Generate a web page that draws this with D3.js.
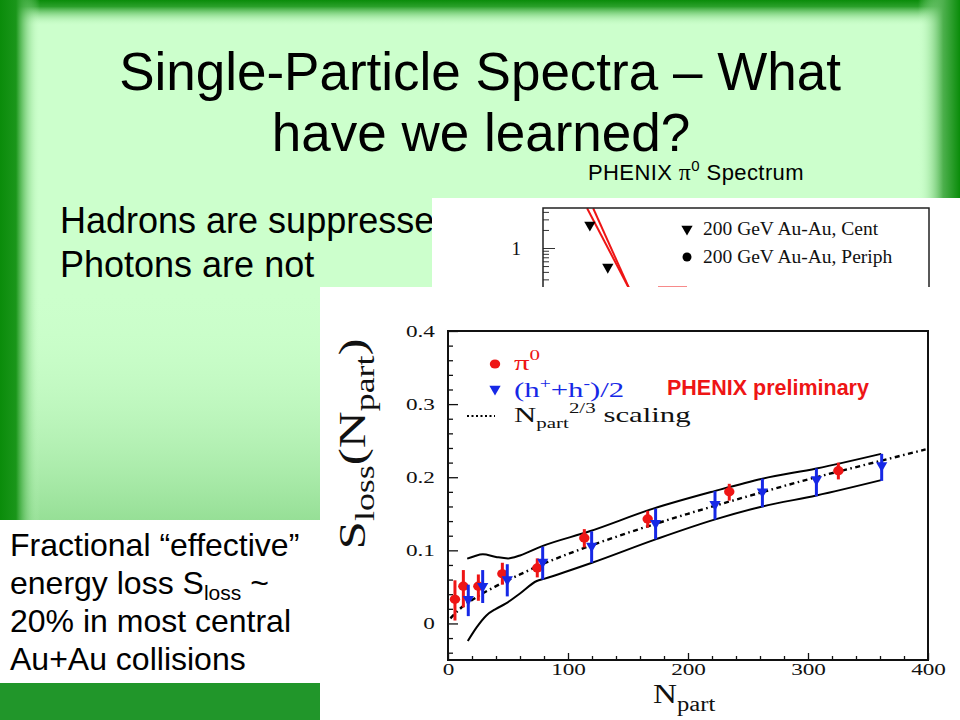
<!DOCTYPE html>
<html>
<head>
<meta charset="utf-8">
<script src="https://cdn.jsdelivr.net/npm/d3@7"></script>
<style>
  html, body { margin: 0; padding: 0; background: #ccffcc; }
  svg { display: block; }
</style>
</head>
<body>
<svg id="slide" width="960" height="720"></svg>
<script>
// ---- values ----
// pi0 points (N_part, S_loss, error low, error high)
const pi0Npart = [5.8, 12.8, 25.3, 45.3, 74.4, 113.6, 166.4, 234.4, 325.3];
const pi0Sloss = [0.033, 0.051, 0.051, 0.068, 0.076, 0.117, 0.143, 0.180, 0.209];
const pi0Lo    = [0.004, 0.022, 0.031, 0.053, 0.063, 0.104, 0.131, 0.168, 0.197];
const pi0Hi    = [0.059, 0.073, 0.067, 0.083, 0.089, 0.129, 0.154, 0.191, 0.220];

// (h+ + h-)/2 points
const hNpart = [16.9, 28.9, 49.4, 78.9, 119.7, 173, 222.5, 262, 307, 361.4];
const hSloss = [0.033, 0.051, 0.060, 0.084, 0.106, 0.137, 0.163, 0.180, 0.197, 0.216];
const hLo    = [0.010, 0.028, 0.037, 0.060, 0.083, 0.115, 0.142, 0.159, 0.174, 0.195];
const hHi    = [0.053, 0.073, 0.081, 0.105, 0.126, 0.157, 0.181, 0.198, 0.212, 0.232];

// Npart^(2/3) scaling curve
const scaleNpart = [2, 10, 20, 40, 60, 80, 100, 150, 200, 250, 300, 350, 398];
const scaleSloss = [0.007, 0.020, 0.032, 0.051, 0.067, 0.082, 0.095, 0.124, 0.150, 0.174, 0.197, 0.218, 0.238];

// systematic band edges
const bandUpN = [16, 22, 29, 40, 50, 60, 78, 118, 171, 222, 262, 307, 361];
const bandUpS = [0.0886, 0.092, 0.0945, 0.091, 0.089, 0.093, 0.1055, 0.126, 0.157, 0.181, 0.198, 0.212, 0.232];
const bandLoN = [16.5, 24, 32, 40, 48, 60, 74, 80, 120, 173, 222, 262, 307, 361];
const bandLoS = [-0.024, -0.005, 0.011, 0.020, 0.027, 0.041, 0.058, 0.061, 0.083, 0.115, 0.142, 0.160, 0.175, 0.196];

const xMajor = [0, 100, 200, 300, 400];
const yMajor = [0, 0.1, 0.2, 0.3, 0.4];

// inset (pi0 spectrum, cut off)
const insetPt  = [1.7, 2.35];
const insetY   = [2.42, 0.48];
const fitAx = [1.6, 3.15], fitAy = [4.6, 0.2];
const fitBx = [1.82, 3.15], fitBy = [4.6, 0.2];
const insetMinor = [0.2, 0.3, 0.4, 0.5, 0.6, 0.7, 0.8, 0.9, 2, 3, 4];

const SERIF = "'Liberation Serif', 'Times New Roman', serif";
const SANS = "'Liberation Sans', Arial, sans-serif";
const RED = '#ee1515';
const BLUE = '#1628e6';

const svg = d3.select('#slide');
const defs = svg.append('defs');

// ---- slide background with green bevel ----
function grad(id, x1, y1, x2, y2, stops) {
  const g = defs.append('linearGradient').attr('id', id)
    .attr('x1', x1).attr('y1', y1).attr('x2', x2).attr('y2', y2);
  stops.forEach(s => g.append('stop').attr('offset', s[0])
    .attr('stop-color', s[1]).attr('stop-opacity', s[2]));
}
grad('gBottom', 0, 0, 0, 1, [[0, '#ccffcc', 0], [1, '#109010', 1]]);
grad('gTop', 0, 0, 0, 1, [[0, '#0a8c0a', 1], [0.25, '#2aa02a', 1], [1, '#ccffcc', 0]]);
grad('gLeft', 0, 0, 1, 0, [[0, '#0a8c0a', 1], [0.4, '#1a961a', 1], [1, '#ccffcc', 0]]);
grad('gRight', 0, 0, 1, 0, [[0, '#ccffcc', 0], [0.6, '#4db04d', 1], [1, '#0a8c0a', 1]]);

svg.append('rect').attr('width', 960).attr('height', 720).attr('fill', '#ccffcc');
svg.append('rect').attr('y', 290).attr('width', 960).attr('height', 430).attr('fill', 'url(#gBottom)');
svg.append('rect').attr('width', 960).attr('height', 26).attr('fill', 'url(#gTop)');
svg.append('rect').attr('width', 40).attr('height', 720).attr('fill', 'url(#gLeft)');
svg.append('rect').attr('x', 918).attr('width', 42).attr('height', 720).attr('fill', 'url(#gRight)');

// ---- title and body text ----
svg.append('text').attr('x', 480).attr('y', 90).attr('text-anchor', 'middle')
  .attr('font-family', SANS).attr('font-size', 53).text('Single-Particle Spectra – What');
svg.append('text').attr('x', 481).attr('y', 151).attr('text-anchor', 'middle')
  .attr('font-family', SANS).attr('font-size', 53).text('have we learned?');

const lab = svg.append('text').attr('x', 588).attr('y', 180)
  .attr('font-family', SANS).attr('font-size', 22).attr('letter-spacing', 0.4);
lab.append('tspan').text('PHENIX ');
lab.append('tspan').attr('font-family', SERIF).attr('font-size', 24).text('π');
lab.append('tspan').attr('font-size', 15).attr('dy', -9).text('0');
lab.append('tspan').attr('dy', 9).text(' Spectrum');

svg.append('text').attr('x', 60).attr('y', 233).attr('font-family', SANS)
  .attr('font-size', 36).text('Hadrons are suppressed');
svg.append('text').attr('x', 60).attr('y', 277).attr('font-family', SANS)
  .attr('font-size', 36).text('Photons are not');

// ---- inset: pi0 spectrum (mostly hidden) ----
svg.append('rect').attr('x', 432).attr('y', 198).attr('width', 528).attr('height', 120).attr('fill', '#fff');
const xi = d3.scaleLinear().domain([0, 14]).range([543, 929]);
const yi = d3.scaleLog().domain([0.1, 10]).range([308, 188]);
defs.append('clipPath').attr('id', 'insetClip').append('rect')
  .attr('x', 543).attr('y', 208).attr('width', 386).attr('height', 120);

const gi = svg.append('g');
gi.append('g').attr('transform', 'translate(543,0)')
  .call(d3.axisLeft(yi).tickValues(insetMinor).tickSizeInner(-6).tickSizeOuter(0).tickFormat(''))
  .call(g => g.select('.domain').remove())
  .call(g => g.selectAll('line').attr('stroke', '#333'));
gi.append('g').attr('transform', 'translate(543,0)')
  .call(d3.axisLeft(yi).tickValues([1]).tickSizeInner(-12).tickSizeOuter(0).tickPadding(22).tickFormat(d => String(d)))
  .call(g => g.select('.domain').remove())
  .call(g => g.selectAll('line').attr('stroke', '#333'))
  .call(g => g.selectAll('text').attr('font-family', SERIF).attr('font-size', 19).attr('fill', '#111'));

const gic = gi.append('g').attr('clip-path', 'url(#insetClip)');
const lineI = d3.line().x(d => xi(d[0])).y(d => yi(d[1]));
[[fitAx, fitAy], [fitBx, fitBy]].forEach(([xs, ys]) => {
  gic.append('path').attr('d', lineI(d3.zip(xs, ys)))
    .attr('fill', 'none').attr('stroke', RED).attr('stroke-width', 2);
});
const triDown = d3.symbol().type(d3.symbolTriangle).size(55);
gic.selectAll('path.itri').data(d3.zip(insetPt, insetY)).enter().append('path')
  .attr('class', 'itri').attr('d', triDown)
  .attr('transform', d => `translate(${xi(d[0])},${yi(d[1])}) rotate(180)`)
  .attr('fill', '#000');

svg.append('rect').attr('x', 543).attr('y', 208).attr('width', 386).attr('height', 120)
  .attr('fill', 'none').attr('stroke', '#222').attr('stroke-width', 1.5);

// inset legend
svg.append('path').attr('d', triDown).attr('transform', 'translate(687,229) rotate(180)').attr('fill', '#000');
svg.append('text').attr('x', 703).attr('y', 235).attr('font-family', SERIF).attr('font-size', 19.5)
  .attr('fill', '#111').text('200 GeV Au-Au, Cent');
svg.append('circle').attr('cx', 687).attr('cy', 257).attr('r', 4.5).attr('fill', '#000');
svg.append('text').attr('x', 703).attr('y', 263).attr('font-family', SERIF).attr('font-size', 19.5)
  .attr('fill', '#111').text('200 GeV Au-Au, Periph');
svg.append('line').attr('x1', 658).attr('x2', 687).attr('y1', 289).attr('y2', 289)
  .attr('stroke', RED).attr('stroke-width', 5);
svg.append('text').attr('x', 703).attr('y', 301).attr('font-family', SERIF).attr('font-size', 19.5)
  .attr('fill', '#111').text('Exponential fit');

// ---- main plot: S_loss vs N_part ----
svg.append('rect').attr('x', 320).attr('y', 287).attr('width', 640).attr('height', 433).attr('fill', '#fff');

const x = d3.scaleLinear().domain([0, 400]).range([448, 928]);
const y = d3.scaleLinear().domain([-0.05, 0.4]).range([660, 331]);
const TICKSCALE = 'scale(1.45,1)';

const yMinor = d3.range(-4, 40, 2).map(v => v / 100).filter(v => Math.abs(v * 10 - Math.round(v * 10)) > 1e-6);
const xMinor = d3.range(20, 400, 20).filter(v => v % 100 !== 0);

const gm = svg.append('g');
gm.append('g').attr('transform', `translate(${x(0)},0)`)
  .call(d3.axisLeft(y).tickValues(yMinor).tickSizeInner(-5).tickSizeOuter(0).tickFormat(''))
  .call(g => g.select('.domain').remove());
gm.append('g').attr('transform', `translate(${x(0)},0)`)
  .call(d3.axisLeft(y).tickValues(yMajor).tickSizeInner(-10).tickSizeOuter(0).tickPadding(9)
    .tickFormat(d => d === 0 ? '0' : d.toFixed(1)))
  .call(g => g.select('.domain').remove())
  .call(g => g.selectAll('text').attr('font-family', SERIF).attr('font-size', 16)
    .attr('fill', '#111').attr('transform', TICKSCALE));
gm.append('g').attr('transform', `translate(0,${y(-0.05)})`)
  .call(d3.axisBottom(x).tickValues(xMinor).tickSizeInner(-4).tickSizeOuter(0).tickFormat(''))
  .call(g => g.select('.domain').remove());
gm.append('g').attr('transform', `translate(0,${y(-0.05)})`)
  .call(d3.axisBottom(x).tickValues(xMajor).tickSizeInner(-7).tickSizeOuter(0).tickPadding(4)
    .tickFormat(d3.format('d')))
  .call(g => g.select('.domain').remove())
  .call(g => g.selectAll('text').attr('font-family', SERIF).attr('font-size', 16)
    .attr('fill', '#111').attr('transform', TICKSCALE));
gm.selectAll('.tick line').attr('stroke', '#111').attr('stroke-width', 1.3);

// band + scaling curve
const curve = d3.line().x(d => x(d[0])).y(d => y(d[1])).curve(d3.curveMonotoneX);
gm.append('path').attr('d', curve(d3.zip(bandUpN, bandUpS)))
  .attr('fill', 'none').attr('stroke', '#000').attr('stroke-width', 2);
gm.append('path').attr('d', curve(d3.zip(bandLoN, bandLoS)))
  .attr('fill', 'none').attr('stroke', '#000').attr('stroke-width', 2);
gm.append('path').attr('d', curve(d3.zip(scaleNpart, scaleSloss)))
  .attr('fill', 'none').attr('stroke', '#000').attr('stroke-width', 2.4)
  .attr('stroke-dasharray', '5 3.5 1.6 3.5');

// pi0 points
const pi0 = d3.range(pi0Npart.length).map(i => ({ n: pi0Npart[i], s: pi0Sloss[i], lo: pi0Lo[i], hi: pi0Hi[i] }));
gm.selectAll('line.pi0err').data(pi0).enter().append('line').attr('class', 'pi0err')
  .attr('x1', d => x(d.n)).attr('x2', d => x(d.n))
  .attr('y1', d => y(d.lo)).attr('y2', d => y(d.hi))
  .attr('stroke', RED).attr('stroke-width', 3);
gm.selectAll('ellipse.pi0').data(pi0).enter().append('ellipse').attr('class', 'pi0')
  .attr('cx', d => x(d.n)).attr('cy', d => y(d.s)).attr('rx', 5.2).attr('ry', 4.6)
  .attr('fill', RED);

// hadron points
const had = d3.range(hNpart.length).map(i => ({ n: hNpart[i], s: hSloss[i], lo: hLo[i], hi: hHi[i] }));
gm.selectAll('line.herr').data(had).enter().append('line').attr('class', 'herr')
  .attr('x1', d => x(d.n)).attr('x2', d => x(d.n))
  .attr('y1', d => y(d.lo)).attr('y2', d => y(d.hi))
  .attr('stroke', BLUE).attr('stroke-width', 3);
const triMain = d3.symbol().type(d3.symbolTriangle).size(55);
gm.selectAll('path.h').data(had).enter().append('path').attr('class', 'h')
  .attr('d', triMain)
  .attr('transform', d => `translate(${x(d.n)},${y(d.s)}) rotate(180)`)
  .attr('fill', BLUE);

// frame
gm.append('rect').attr('x', x(0)).attr('y', y(0.4))
  .attr('width', x(400) - x(0)).attr('height', y(-0.05) - y(0.4))
  .attr('fill', 'none').attr('stroke', '#111').attr('stroke-width', 2);

// legend
gm.append('ellipse').attr('cx', 495).attr('cy', 364).attr('rx', 5.2).attr('ry', 4.6).attr('fill', RED);
gm.append('path').attr('d', triMain).attr('transform', 'translate(495,389) rotate(180)').attr('fill', BLUE);
gm.append('line').attr('x1', 467).attr('x2', 495).attr('y1', 416).attr('y2', 416)
  .attr('stroke', '#000').attr('stroke-width', 2).attr('stroke-dasharray', '2 2.5');

const l1 = gm.append('text').attr('transform', 'translate(514,370) scale(1.4,1)')
  .attr('font-family', SERIF).attr('font-size', 22).attr('fill', RED);
l1.append('tspan').text('π');
l1.append('tspan').attr('font-size', 15).attr('dy', -10).text('0');

const l2 = gm.append('text').attr('transform', 'translate(514,397) scale(1.4,1)')
  .attr('font-family', SERIF).attr('font-size', 22).attr('fill', BLUE);
l2.append('tspan').text('(h');
l2.append('tspan').attr('font-size', 14).attr('dy', -9).text('+');
l2.append('tspan').attr('dy', 9).text('+h');
l2.append('tspan').attr('font-size', 14).attr('dy', -9).text('-');
l2.append('tspan').attr('dy', 9).text(')/2');

const l3 = gm.append('text').attr('transform', 'translate(514,422) scale(1.4,1)')
  .attr('font-family', SERIF).attr('font-size', 22).attr('fill', '#111');
l3.append('tspan').text('N');
l3.append('tspan').attr('font-size', 15).attr('dy', 6).text('part');
l3.append('tspan').attr('font-size', 15).attr('dy', -15).text('2/3');
l3.append('tspan').attr('dy', 9).text(' scaling');

gm.append('text').attr('x', 667).attr('y', 395).attr('font-family', SANS)
  .attr('font-weight', 'bold').attr('font-size', 21.5).attr('fill', RED).text('PHENIX preliminary');

// axis titles
const yt = gm.append('text').attr('transform', 'translate(365,444) rotate(-90) scale(1.28,0.95)')
  .attr('text-anchor', 'middle').attr('font-family', SERIF).attr('font-size', 40).attr('fill', '#111');
yt.append('tspan').text('S');
yt.append('tspan').attr('font-size', 28).attr('dy', 9).text('loss');
yt.append('tspan').attr('dy', -9).text('(N');
yt.append('tspan').attr('font-size', 28).attr('dy', 9).text('part');
yt.append('tspan').attr('dy', -9).text(')');

const xt = gm.append('text').attr('transform', 'translate(653,703) scale(1.23,1)')
  .attr('font-family', SERIF).attr('font-size', 27).attr('fill', '#111');
xt.append('tspan').text('N');
xt.append('tspan').attr('font-size', 20).attr('dy', 8).text('part');

// ---- bottom-left text box ----
svg.append('rect').attr('x', 0).attr('y', 520).attr('width', 320).attr('height', 163).attr('fill', '#fff');
svg.append('rect').attr('x', 0).attr('y', 683).attr('width', 320).attr('height', 37).attr('fill', '#21962a');
const box = svg.append('g').attr('font-family', SANS).attr('font-size', 32).attr('fill', '#000');
box.append('text').attr('x', 10).attr('y', 556).text('Fractional “effective”');
const e2 = box.append('text').attr('x', 10).attr('y', 594);
e2.append('tspan').text('energy loss S');
e2.append('tspan').attr('font-size', 21).attr('dy', 6).text('loss');
e2.append('tspan').attr('dy', -6).text(' ~');
box.append('text').attr('x', 10).attr('y', 632).text('20% in most central');
box.append('text').attr('x', 10).attr('y', 670).text('Au+Au collisions');
</script>
</body>
</html>
